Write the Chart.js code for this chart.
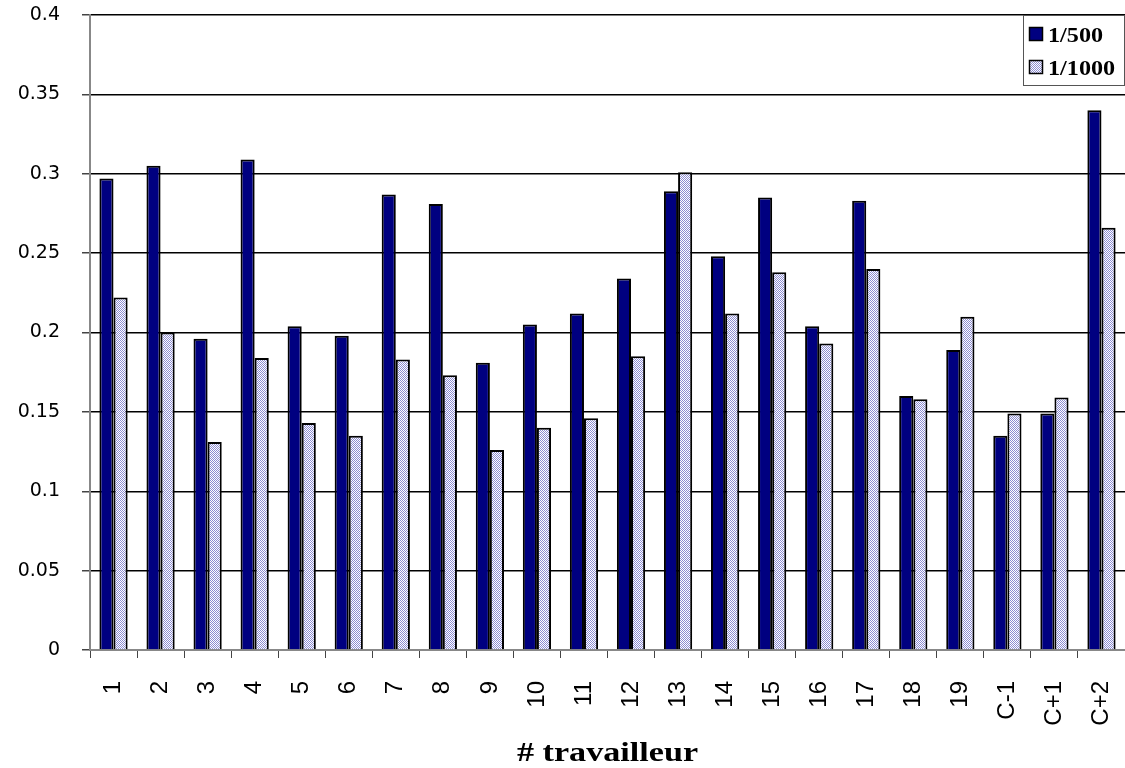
<!DOCTYPE html>
<html>
<head>
<meta charset="utf-8">
<script src="https://cdn.jsdelivr.net/npm/chart.js@4/dist/chart.umd.min.js"></script>
<style>
  html, body { margin: 0; padding: 0; background: #fff; overflow: hidden; }
  canvas { display: block; }
</style>
</head>
<body>
<canvas id="c" width="1125" height="768"></canvas>
<script>
// Worker ids along the horizontal axis
const categories = ['1','2','3','4','5','6','7','8','9','10','11','12','13','14','15','16','17','18','19','C-1','C+1','C+2'];

// Values for each dilution
const series500  = [0.297, 0.305, 0.196, 0.309, 0.204, 0.198, 0.287, 0.281, 0.181, 0.205, 0.212, 0.234, 0.289, 0.248, 0.285, 0.204, 0.283, 0.160, 0.189, 0.135, 0.149, 0.340];
const series1000 = [0.222, 0.200, 0.131, 0.184, 0.143, 0.135, 0.183, 0.173, 0.126, 0.140, 0.146, 0.185, 0.301, 0.212, 0.238, 0.193, 0.240, 0.158, 0.210, 0.149, 0.159, 0.266];

const seriesNames = ['1/500', '1/1000'];
const yTickLabels = ['0', '0.05', '0.1', '0.15', '0.2', '0.25', '0.3', '0.35', '0.4'];
const axisTitle = '# travailleur';

const canvas = document.getElementById('c');
const ctx0 = canvas.getContext('2d');

// Fine dotted fill for the second series
function dottedFill() {
  const p = document.createElement('canvas');
  p.width = 2; p.height = 2;
  const g = p.getContext('2d');
  g.fillStyle = '#ffffff';
  g.fillRect(0, 0, 2, 2);
  g.fillStyle = '#8c8cd2';
  g.fillRect(0, 0, 1, 1);
  g.fillRect(1, 1, 1, 1);
  return ctx0.createPattern(p, 'repeat');
}

const NAVY = '#000080';
const DOTS = dottedFill();

// Boxed legend in the upper-right corner and the axis caption below
const extras = {
  id: 'extras',
  afterDraw(chart) {
    const ctx = chart.ctx;
    ctx.save();
    const bx = 1023.5, by = 15.5, bw = 101, bh = 70;
    ctx.fillStyle = '#fff';
    ctx.fillRect(bx, by, bw, bh);
    ctx.strokeStyle = '#555';
    ctx.lineWidth = 1;
    ctx.strokeRect(bx, by, bw, bh);

    const fills = [NAVY, DOTS];
    for (let i = 0; i < seriesNames.length; i++) {
      const y0 = 27 + i * 33;
      ctx.fillStyle = fills[i];
      ctx.fillRect(1029, y0, 14, 14);
      ctx.strokeStyle = '#000';
      ctx.lineWidth = 1.5;
      ctx.strokeRect(1029.5, y0 + 0.5, 13, 13);

      ctx.save();
      ctx.translate(1048, y0 + 15);
      ctx.scale(1.1, 1);
      ctx.font = 'bold 22px "Liberation Serif"';
      ctx.fillStyle = '#000';
      ctx.textBaseline = 'alphabetic';
      ctx.fillText(seriesNames[i], 0, 0);
      ctx.restore();
    }

    const area = chart.chartArea;
    ctx.translate((area.left + area.right) / 2, 761);
    ctx.scale(1.22, 1);
    ctx.font = 'bold 28px "Liberation Serif"';
    ctx.fillStyle = '#000';
    ctx.textAlign = 'center';
    ctx.textBaseline = 'alphabetic';
    ctx.fillText(axisTitle, 0, 0);
    ctx.restore();
  }
};

new Chart(canvas, {
  type: 'bar',
  data: {
    labels: categories,
    datasets: [
      {
        label: seriesNames[0],
        data: series500,
        backgroundColor: NAVY,
        borderColor: '#000',
        borderWidth: 2,
        categoryPercentage: 0.6,
        barPercentage: 1.0
      },
      {
        label: seriesNames[1],
        data: series1000,
        backgroundColor: DOTS,
        borderColor: '#000',
        borderWidth: 2,
        categoryPercentage: 0.6,
        barPercentage: 1.0
      }
    ]
  },
  options: {
    responsive: false,
    devicePixelRatio: 1,
    animation: false,
    layout: { padding: { top: 15, right: 0, left: 0, bottom: 0 } },
    plugins: {
      legend: { display: false },
      tooltip: { enabled: false },
      title: { display: false }
    },
    scales: {
      x: {
        ticks: {
          color: '#000',
          font: { family: 'Liberation Sans', size: 24 },
          minRotation: 90,
          maxRotation: 90,
          autoSkip: false,
          padding: 23
        },
        grid: {
          drawOnChartArea: false,
          drawTicks: true,
          tickLength: 8,
          tickColor: '#444',
          offset: true
        },
        border: { color: '#888', width: 2 },
        afterFit(s) {
          s.height = 118;
          s.paddingLeft = 0;
          s.paddingRight = 0;
        }
      },
      y: {
        min: 0,
        max: 0.4,
        ticks: {
          stepSize: 0.05,
          padding: 22,
          color: '#000',
          font: { family: 'DejaVu Sans', size: 19 },
          callback: (v, i) => yTickLabels[i]
        },
        grid: {
          color: (c) => (c.tick && c.tick.value === 0 ? '#888' : '#000'),
          lineWidth: 1.5,
          drawTicks: true,
          tickLength: 8,
          tickColor: '#444'
        },
        border: { color: '#888', width: 2 },
        afterFit(s) {
          s.width = 90;
          s.paddingTop = 0;
          s.paddingBottom = 0;
        }
      }
    }
  },
  plugins: [extras]
});
</script>
</body>
</html>
